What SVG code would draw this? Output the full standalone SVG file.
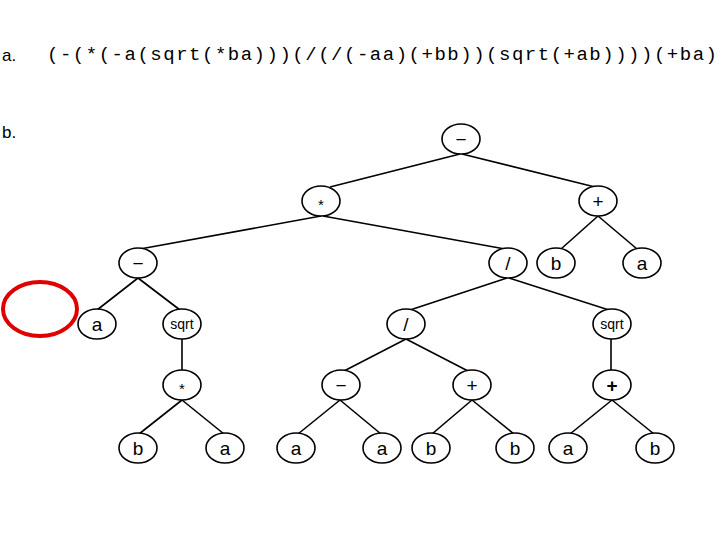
<svg xmlns="http://www.w3.org/2000/svg" width="720" height="540" viewBox="0 0 720 540">
<style>
.n ellipse{fill:#fff;stroke:#000;stroke-width:1.6}
.n text{font-family:"Liberation Sans",Arial,sans-serif;font-size:19px;text-anchor:middle;fill:#000}
.n text.s{font-size:14px}
#edges line{stroke:#000;stroke-width:1.6}
.lbl{font-family:"Liberation Sans",Arial,sans-serif;font-size:17px;fill:#000}
.expr{font-family:"Liberation Mono","Courier New",monospace;font-size:19px;fill:#000}
</style>
<rect width="720" height="540" fill="#fff"/>
<text class="lbl" x="2" y="61">a.</text>
<text class="expr" x="47" y="60" textLength="670" lengthAdjust="spacing">(-(*(-a(sqrt(*ba)))(/(/(-aa)(+bb))(sqrt(+ab))))(+ba)</text>
<text class="lbl" x="2" y="138">b.</text>
<g id="edges">
<line x1="460" y1="154" x2="330" y2="187"/>
<line x1="462" y1="154" x2="595" y2="187"/>
<line x1="321" y1="216" x2="140" y2="249"/>
<line x1="323" y1="216" x2="505" y2="249"/>
<line x1="598" y1="216" x2="561" y2="249"/>
<line x1="598" y1="216" x2="637" y2="249"/>
<line x1="138" y1="278" x2="97" y2="310"/>
<line x1="138" y1="278" x2="180" y2="310"/>
<line x1="507" y1="278" x2="410" y2="310"/>
<line x1="509" y1="278" x2="609" y2="310"/>
<line x1="182" y1="339" x2="182" y2="371"/>
<line x1="611" y1="339" x2="611" y2="371"/>
<line x1="406" y1="339" x2="344" y2="371"/>
<line x1="406" y1="339" x2="468" y2="371"/>
<line x1="182" y1="400" x2="139" y2="434"/>
<line x1="182" y1="400" x2="224" y2="434"/>
<line x1="340" y1="400" x2="298" y2="434"/>
<line x1="340" y1="400" x2="381" y2="434"/>
<line x1="472" y1="400" x2="432" y2="434"/>
<line x1="472" y1="400" x2="514" y2="434"/>
<line x1="612" y1="400" x2="570" y2="434"/>
<line x1="612" y1="400" x2="654" y2="434"/>
</g>
<g id="n1" class="n"><ellipse cx="461" cy="139" rx="19" ry="15"/><text x="461" y="146">−</text></g>
<g id="n2" class="n"><ellipse cx="321" cy="201" rx="19" ry="15"/><text x="321" y="210" style="font-size:15px">*</text></g>
<g id="n3" class="n"><ellipse cx="598" cy="201" rx="19" ry="15"/><text x="598" y="208">+</text></g>
<g id="n4" class="n"><ellipse cx="138" cy="263" rx="19" ry="15"/><text x="138" y="270">−</text></g>
<g id="n5" class="n"><ellipse cx="508" cy="263" rx="19" ry="15"/><text x="508" y="270">/</text></g>
<g id="n6" class="n"><ellipse cx="556" cy="263" rx="19" ry="15"/><text x="556" y="270">b</text></g>
<g id="n7" class="n"><ellipse cx="642" cy="263" rx="19" ry="15"/><text x="642" y="270">a</text></g>
<g id="n8" class="n"><ellipse cx="97" cy="324" rx="19" ry="15"/><text x="97" y="331">a</text></g>
<g id="n9" class="n"><ellipse cx="182" cy="324" rx="19" ry="15"/><text class="s" x="182" y="329">sqrt</text></g>
<g id="n10" class="n"><ellipse cx="406" cy="324" rx="19" ry="15"/><text x="406" y="331">/</text></g>
<g id="n11" class="n"><ellipse cx="612" cy="324" rx="19" ry="15"/><text class="s" x="612" y="329">sqrt</text></g>
<g id="n12" class="n"><ellipse cx="182" cy="385" rx="19" ry="15"/><text x="182" y="394" style="font-size:15px">*</text></g>
<g id="n13" class="n"><ellipse cx="341" cy="385" rx="19" ry="15"/><text x="341" y="392">−</text></g>
<g id="n14" class="n"><ellipse cx="472" cy="385" rx="19" ry="15"/><text x="472" y="392">+</text></g>
<g id="n15" class="n"><ellipse cx="612" cy="385" rx="19" ry="15"/><text x="612" y="392" style="font-weight:bold">+</text></g>
<g id="n16" class="n"><ellipse cx="138" cy="448" rx="19" ry="15"/><text x="138" y="455">b</text></g>
<g id="n17" class="n"><ellipse cx="225" cy="448" rx="19" ry="15"/><text x="225" y="455">a</text></g>
<g id="n18" class="n"><ellipse cx="296" cy="448" rx="19" ry="15"/><text x="296" y="455">a</text></g>
<g id="n19" class="n"><ellipse cx="382" cy="448" rx="19" ry="15"/><text x="382" y="455">a</text></g>
<g id="n20" class="n"><ellipse cx="431" cy="448" rx="19" ry="15"/><text x="431" y="455">b</text></g>
<g id="n21" class="n"><ellipse cx="515" cy="448" rx="19" ry="15"/><text x="515" y="455">b</text></g>
<g id="n22" class="n"><ellipse cx="568" cy="448" rx="19" ry="15"/><text x="568" y="455">a</text></g>
<g id="n23" class="n"><ellipse cx="655" cy="448" rx="19" ry="15"/><text x="655" y="455">b</text></g>
<ellipse id="mark" cx="40" cy="309" rx="37" ry="27" fill="none" stroke="#e00000" stroke-width="4"/>
</svg>
